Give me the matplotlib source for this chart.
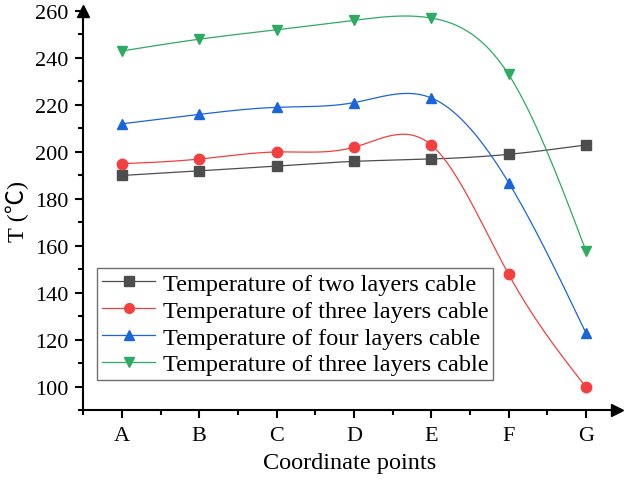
import matplotlib
matplotlib.use('Agg')
import matplotlib.pyplot as plt
from matplotlib.ticker import MultipleLocator
import numpy as np

# data
points = ['A', 'B', 'C', 'D', 'E', 'F', 'G']
two_layers = [190, 192, 194, 196, 197, 199, 203]
three_layers = [195, 197, 200, 202, 203, 148, 100]
four_layers = [212, 216, 219, 221, 223, 187, 123]
three_layers_b = [243, 248, 252, 256, 257, 233, 158]

labels = ['Temperature of two layers cable',
          'Temperature of three layers cable',
          'Temperature of four layers cable',
          'Temperature of three layers cable']


def natural_spline(x, y, n=300):
    """natural cubic spline through the points (like Origin's spline line)"""
    x = np.asarray(x, float)
    y = np.asarray(y, float)
    k = len(x)
    h = np.diff(x)
    A = np.zeros((k, k))
    r = np.zeros(k)
    A[0, 0] = 1
    A[-1, -1] = 1
    for i in range(1, k - 1):
        A[i, i - 1] = h[i - 1]
        A[i, i] = 2 * (h[i - 1] + h[i])
        A[i, i + 1] = h[i]
        r[i] = 6 * ((y[i + 1] - y[i]) / h[i] - (y[i] - y[i - 1]) / h[i - 1])
    M = np.linalg.solve(A, r)
    xs = np.linspace(x[0], x[-1], n)
    idx = np.clip(np.searchsorted(x, xs) - 1, 0, k - 2)
    x0, x1 = x[idx], x[idx + 1]
    hh = x1 - x0
    a = (x1 - xs) / hh
    b = (xs - x0) / hh
    ys = a * y[idx] + b * y[idx + 1] + ((a ** 3 - a) * M[idx] + (b ** 3 - b) * M[idx + 1]) * hh ** 2 / 6
    return xs, ys


plt.rcParams['font.family'] = ['Liberation Serif', 'Noto Sans CJK SC']

fig = plt.figure(figsize=(6.24, 4.81), dpi=100)
ax = fig.add_axes([0.1335, 0.1445, 0.855, 0.8306])

x = np.arange(len(points))
series = [two_layers, three_layers, four_layers, three_layers_b]
colors = ['#4d4d4d', '#f24040', '#1a64dc', '#2eaa62']
markers = ['s', 'o', '^', 'v']

for vals, c, m, lab in zip(series, colors, markers, labels):
    xs, ys = natural_spline(x, vals)
    ax.plot(xs, ys, color=c, lw=0.9)
    ax.plot(x, vals, ls='none', marker=m, color=c, ms=7.5)
    # legend proxy
    ax.plot([], [], color=c, lw=0.9, marker=m, ms=7, label=lab)

ax.set_xlim(-0.5, 6.4)
ax.set_ylim(90, 260)
ax.set_xticks(x)
ax.set_xticklabels(points)
ax.xaxis.set_minor_locator(MultipleLocator(0.5))
ax.yaxis.set_major_locator(MultipleLocator(20))
ax.yaxis.set_minor_locator(MultipleLocator(10))

for s in ['top', 'right']:
    ax.spines[s].set_visible(False)
for s in ['left', 'bottom']:
    ax.spines[s].set_linewidth(1.5)

ax.tick_params(which='major', direction='out', length=6, width=1.5, labelsize=16)
ax.tick_params(axis='x', which='major', pad=5)
ax.tick_params(axis='y', which='major', pad=5)
ax.tick_params(which='minor', direction='out', length=3.5, width=1.5)

# axis arrows
ax.plot(1, 0, '>k', ms=8, transform=ax.transAxes, clip_on=False)
ax.plot(0, 1, '^k', ms=8, transform=ax.transAxes, clip_on=False)

ax.set_xlabel('Coordinate points', fontsize=17.5, labelpad=5)
ax.set_ylabel('T (\u2103)', fontsize=17.5, labelpad=4)

handles, labs = ax.get_legend_handles_labels()
leg = ax.legend(handles, labs,
                loc='upper left', bbox_to_anchor=(97 / 624, 1 - 269 / 481),
                bbox_transform=fig.transFigure, fontsize=17.5, fancybox=False,
                framealpha=1, edgecolor='#707070', borderaxespad=0, borderpad=0.2,
                labelspacing=0.2, handlelength=2.2, handletextpad=0.3)
leg.get_frame().set_linewidth(1.0)

fig.savefig('out.png', dpi=100)
